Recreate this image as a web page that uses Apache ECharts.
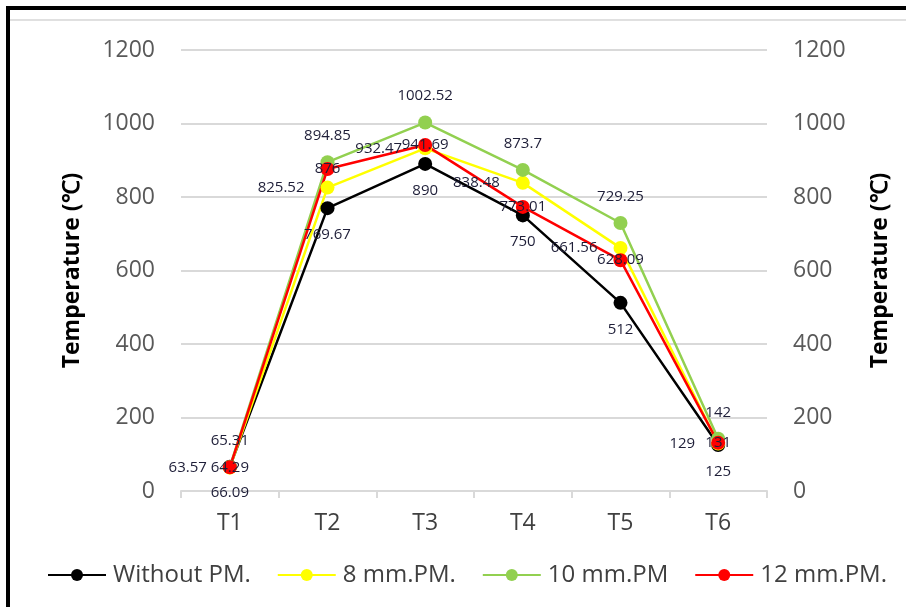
<!DOCTYPE html>
<html><head><meta charset="utf-8">
<script src="https://cdn.jsdelivr.net/npm/echarts@6/dist/echarts.min.js"></script>
<style>html,body{margin:0;padding:0;background:#fff}#c{width:906px;height:607px}</style>
</head><body><div id="c"></div>
<script>
const categories = ['T1','T2','T3','T4','T5','T6'];
const withoutPM = [66.09, 769.67, 890, 750, 512, 125];
const pm8 = [63.57, 825.52, 932.47, 838.48, 661.56, 129];
const pm10 = [65.31, 894.85, 1002.52, 873.7, 729.25, 142];
const pm12 = [64.29, 876, 941.69, 773.01, 628.09, 131];
const seriesNames = ['Without PM.', '8 mm.PM.', '10 mm.PM', '12 mm.PM.'];
const yTicks = {min: 0, max: 1200, interval: 200};
const axisTitle = 'Temperature (℃)';

const FONT = 'Open Sans';
const labelStyle = {fontFamily: FONT, fontSize: 15, color: '#1e1e38'};
function mk(name, data, color, pos) {
  return {
    name, type: 'line', data, symbol: 'circle', symbolSize: 14,
    lineStyle: {color, width: 2.5}, itemStyle: {color},
    label: Object.assign({show: true, position: pos, distance: pos === 'left' ? 16 : 12,
      formatter: p => String(p.value)}, labelStyle),
    emphasis: {disabled: true}, animation: false
  };
}
const chart = echarts.init(document.getElementById('c'), null, {renderer: 'canvas'});
const yCommon = {
  type: 'value', min: yTicks.min, max: yTicks.max, interval: yTicks.interval,
  name: axisTitle, nameLocation: 'middle', nameRotate: 90,
  nameTextStyle: {fontFamily: FONT, fontSize: 23, fontWeight: 'bold', color: '#000'},
  axisLine: {show: false}, axisTick: {show: false},
  axisLabel: {fontFamily: FONT, fontSize: 23, color: '#595959', margin: 26,
    formatter: v => String(v)}
};
chart.setOption({
  animation: false,
  grid: {left: 181, right: 139, top: 50, bottom: 116},
  xAxis: {
    type: 'category', data: categories, boundaryGap: true,
    axisLine: {lineStyle: {color: '#d9d9d9', width: 2}},
    axisTick: {show: true, length: 7, lineStyle: {color: '#d9d9d9', width: 2}},
    axisLabel: {fontFamily: FONT, fontSize: 23, color: '#404040', margin: 21}
  },
  yAxis: [
    Object.assign({}, yCommon, {position: 'left', nameGap: 97,
      splitLine: {lineStyle: {color: '#d9d9d9', width: 2}}}),
    Object.assign({}, yCommon, {position: 'right', nameGap: 102,
      splitLine: {show: false}})
  ],
  legend: {
    top: 563, left: 47, width: 880, itemWidth: 58, itemHeight: 15, itemGap: 26,
    padding: 0,
    textStyle: {fontFamily: FONT, fontSize: 24, color: '#404040', padding: [0,0,0,2]},
    data: seriesNames
  },
  graphic: [
    {type: 'line', shape: {x1: 8, y1: 8, x2: 906, y2: 8}, style: {stroke: '#000', lineWidth: 4}},
    {type: 'line', shape: {x1: 8, y1: 6, x2: 8, y2: 607}, style: {stroke: '#000', lineWidth: 4}},
    {type: 'line', shape: {x1: 10, y1: 20, x2: 906, y2: 20}, style: {stroke: '#e0e0e0', lineWidth: 2}}
  ],
  series: [
    mk(seriesNames[0], withoutPM, '#000000', 'bottom'),
    mk(seriesNames[1], pm8, '#ffff00', 'left'),
    mk(seriesNames[2], pm10, '#92d050', 'top'),
    mk(seriesNames[3], pm12, '#ff0000', 'inside')
  ]
});
</script></body></html>
